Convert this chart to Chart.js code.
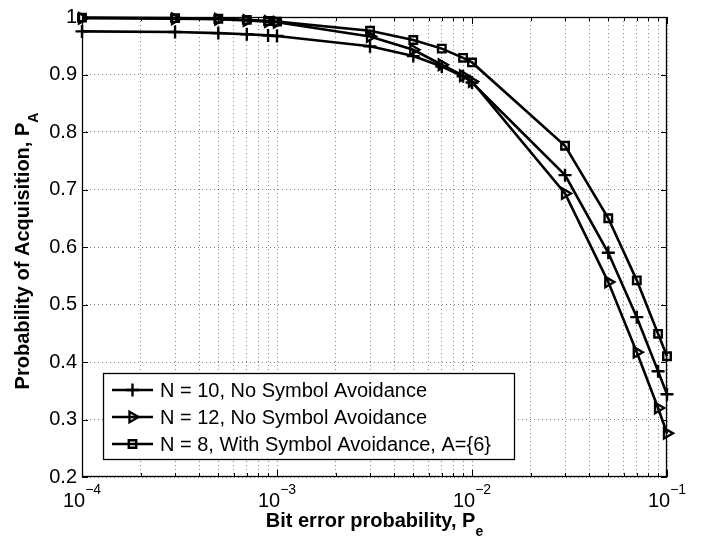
<!DOCTYPE html>
<html>
<head>
<meta charset="utf-8">
<script src="https://cdn.jsdelivr.net/npm/chart.js@4.4.0/dist/chart.umd.min.js"></script>
<style>
  body { margin: 0; background: #fff; }
  #mycanvas { display: block; }
</style>
</head>
<body>
<canvas id="mycanvas" width="709" height="538"></canvas>
<script>
// bit error probabilities (x) and acquisition probabilities per curve
var bitErrors = [1e-4, 3e-4, 5e-4, 7e-4, 9e-4, 1e-3, 3e-3, 5e-3, 7e-3, 9e-3, 1e-2, 3e-2, 5e-2, 7e-2, 9e-2, 1e-1];
var pN10 = [0.975, 0.974, 0.972, 0.970, 0.968, 0.967, 0.949, 0.932, 0.914, 0.897, 0.886, 0.725, 0.590, 0.478, 0.384, 0.344];
var pN12 = [0.998, 0.997, 0.996, 0.994, 0.992, 0.991, 0.966, 0.943, 0.917, 0.898, 0.888, 0.693, 0.539, 0.417, 0.320, 0.276];
var pN8  = [0.999, 0.998, 0.997, 0.995, 0.993, 0.992, 0.976, 0.960, 0.945, 0.929, 0.921, 0.776, 0.650, 0.542, 0.449, 0.410];
var seriesLabels = ["N = 10, No Symbol Avoidance", "N = 12, No Symbol Avoidance", "N = 8, With Symbol Avoidance, A={6}"];
var yTicks = [0.2, 0.3, 0.4, 0.5, 0.6, 0.7, 0.8, 0.9, 1];
var xDecades = [-4, -3, -2, -1];

var FONT = "'Liberation Sans', Arial, Helvetica, sans-serif";

function pts(ys) {
  return bitErrors.map(function(x, i) { return {x: x, y: ys[i]}; });
}

function series(label, ys, style, radius, rotation) {
  return {
    label: label,
    data: pts(ys),
    borderColor: "#000",
    backgroundColor: "rgba(0,0,0,0)",
    borderWidth: 2.6,
    pointStyle: style,
    pointRadius: radius,
    pointRotation: rotation,
    pointBorderWidth: 2.4,
    pointBorderColor: "#000",
    pointBackgroundColor: "rgba(0,0,0,0)",
    clip: false,
    tension: 0
  };
}

// frame, inside tick marks, superscript x labels, axis titles, legend
var matlabLook = {
  id: "matlabLook",
  beforeDatasetsDraw: function(chart) {
    var ctx = chart.ctx, a = chart.chartArea;
    var xs = chart.scales.x, ys = chart.scales.y;
    ctx.save();
    ctx.strokeStyle = "#000";
    ctx.lineWidth = 1.3;
    ctx.strokeRect(Math.round(a.left) + 0.5, Math.round(a.top) + 0.5,
                   Math.round(a.right - a.left) - 1, Math.round(a.bottom - a.top) - 1);
    ctx.lineWidth = 1;
    ctx.beginPath();
    xs.ticks.forEach(function(t) {
      var px = Math.round(xs.getPixelForValue(t.value)) + 0.5;
      var len = t.major ? 7 : 4;
      ctx.moveTo(px, a.bottom); ctx.lineTo(px, a.bottom - len);
      ctx.moveTo(px, a.top); ctx.lineTo(px, a.top + len);
    });
    yTicks.forEach(function(v) {
      var py = Math.round(ys.getPixelForValue(v)) + 0.5;
      ctx.moveTo(a.left, py); ctx.lineTo(a.left + 6, py);
      ctx.moveTo(a.right, py); ctx.lineTo(a.right - 6, py);
    });
    ctx.stroke();
    ctx.restore();
  },
  afterDraw: function(chart) {
    var ctx = chart.ctx, a = chart.chartArea;
    var xs = chart.scales.x;
    ctx.save();
    ctx.fillStyle = "#000";
    ctx.textBaseline = "alphabetic";

    // x tick labels 10^n
    xDecades.forEach(function(e) {
      var px = xs.getPixelForValue(Math.pow(10, e));
      ctx.font = "20px " + FONT;
      var wb = ctx.measureText("10").width;
      var sup = "\u2212" + Math.abs(e);
      ctx.font = "14px " + FONT;
      var ws = ctx.measureText(sup).width;
      var left = px - (wb + ws) / 2;
      ctx.font = "20px " + FONT;
      ctx.textAlign = "left";
      ctx.fillText("10", left, 507);
      ctx.font = "14px " + FONT;
      ctx.fillText(sup, left + wb, 494);
    });

    // x title
    ctx.font = "bold 20px " + FONT;
    var xt = "Bit error probability, P";
    var w1 = ctx.measureText(xt).width;
    ctx.font = "bold 14px " + FONT;
    var w2 = ctx.measureText("e").width;
    var cx = (a.left + a.right) / 2;
    var lx = cx - (w1 + w2) / 2;
    ctx.font = "bold 20px " + FONT;
    ctx.fillText(xt, lx, 527);
    ctx.font = "bold 14px " + FONT;
    ctx.fillText("e", lx + w1, 536);

    // y title (rotated)
    ctx.save();
    ctx.translate(29, (a.top + a.bottom) / 2 + 4);
    ctx.rotate(-Math.PI / 2);
    ctx.font = "bold 20px " + FONT;
    var yt = "Probability of Acquisition, P";
    var v1 = ctx.measureText(yt).width;
    ctx.font = "bold 14px " + FONT;
    var v2 = ctx.measureText("A").width;
    var ly = -(v1 + v2) / 2;
    ctx.font = "bold 20px " + FONT;
    ctx.fillText(yt, ly, 0);
    ctx.font = "bold 14px " + FONT;
    ctx.fillText("A", ly + v1, 9);
    ctx.restore();

    // legend box
    var bx = 103, by = 373, bw = 411, bh = 86;
    ctx.fillStyle = "#fff";
    ctx.fillRect(bx, by, bw, bh);
    ctx.strokeStyle = "#000";
    ctx.lineWidth = 1.3;
    ctx.strokeRect(bx + 0.5, by + 0.5, bw, bh);
    var rows = [390, 417, 444];
    chart.data.datasets.forEach(function(ds, i) {
      var ry = rows[i];
      ctx.strokeStyle = "#000";
      ctx.lineWidth = 2.6;
      ctx.beginPath();
      ctx.moveTo(112, ry); ctx.lineTo(153, ry);
      ctx.stroke();
      ctx.fillStyle = "rgba(0,0,0,0)";
      ctx.lineWidth = 2.4;
      Chart.helpers.drawPoint(ctx, {
        pointStyle: ds.pointStyle,
        rotation: ds.pointRotation,
        radius: ds.pointRadius,
        borderWidth: 2.4
      }, 132.5, ry);
      ctx.fillStyle = "#000";
      ctx.font = "20px " + FONT;
      ctx.textAlign = "left";
      ctx.textBaseline = "middle";
      ctx.fillText(ds.label, 160, ry + 1);
    });
    ctx.restore();
  }
};

var ctx = document.getElementById("mycanvas").getContext("2d");
var config = {
  type: "line",
  data: {
    datasets: [
      series(seriesLabels[0], pN10, "cross", 6.5, 0),
      series(seriesLabels[1], pN12, "triangle", 6, 90),
      series(seriesLabels[2], pN8, "rect", 5.3, 0)
    ]
  },
  options: {
    responsive: false,
    animation: false,
    layout: { padding: { top: 12, right: 42, left: 0, bottom: 0 } },
    plugins: { legend: { display: false }, tooltip: { enabled: false } },
    scales: {
      x: {
        type: "logarithmic",
        min: 1e-4,
        max: 1e-1,
        afterBuildTicks: function(scale) {
          var t = [];
          xDecades.forEach(function(e) {
            for (var m = 1; m <= 9; m++) {
              if (e === -1 && m > 1) break;
              t.push({ value: m * Math.pow(10, e), major: m === 1 });
            }
          });
          scale.ticks = t;
        },
        afterFit: function(scale) { scale.height = 61; },
        ticks: { display: false },
        border: { display: false, dash: [1, 3] },
        grid: { color: "rgba(0,0,0,0.5)", lineWidth: 1, drawTicks: false }
      },
      y: {
        min: 0.2,
        max: 1,
        afterBuildTicks: function(scale) {
          scale.ticks = yTicks.map(function(v) { return { value: v }; });
        },
        afterFit: function(scale) { scale.width = 82; },
        ticks: {
          color: "#000",
          padding: 5,
          font: { family: FONT, size: 20 },
          callback: function(v) { return String(+(+v).toFixed(1)); }
        },
        border: { display: false, dash: [1, 3] },
        grid: { color: "rgba(0,0,0,0.5)", lineWidth: 1, drawTicks: false }
      }
    }
  },
  plugins: [matlabLook]
};
var newChart = new Chart(ctx, config);
</script>
</body>
</html>
